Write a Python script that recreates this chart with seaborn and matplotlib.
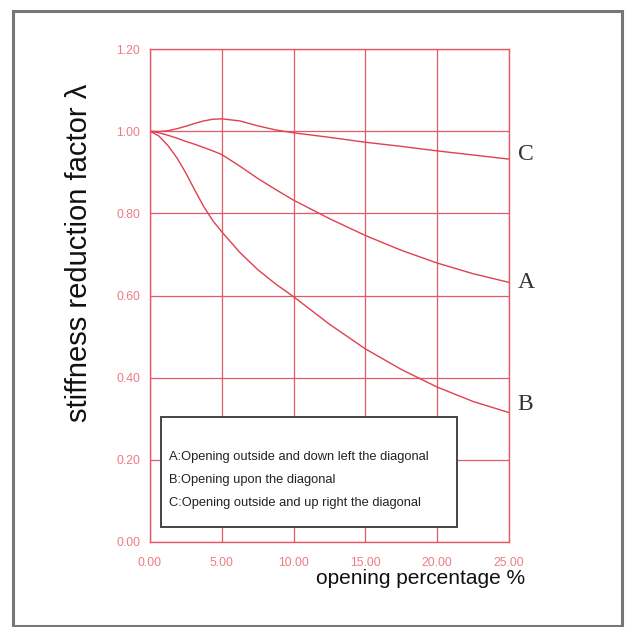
import numpy as np
import pandas as pd
import matplotlib
matplotlib.use("Agg")
import matplotlib.pyplot as plt
from matplotlib.patches import Rectangle
import seaborn as sns

# Data
opening = [0, 0.625, 1.25, 1.875, 2.5, 3.125, 3.75, 4.375, 5, 6.25, 7.5, 8.75, 10,
           12.5, 15, 17.5, 20, 22.5, 25]
curve_a = [1.000, 0.996, 0.990, 0.983, 0.975, 0.968, 0.960, 0.952, 0.943, 0.915, 0.885,
           0.858, 0.832, 0.787, 0.746, 0.710, 0.679, 0.653, 0.632]
curve_b = [1.000, 0.988, 0.965, 0.935, 0.898, 0.856, 0.816, 0.782, 0.755, 0.705, 0.663,
           0.628, 0.597, 0.530, 0.470, 0.420, 0.377, 0.342, 0.315]
curve_c = [1.000, 0.999, 1.001, 1.006, 1.012, 1.019, 1.025, 1.029, 1.030, 1.025, 1.013,
           1.003, 0.996, 0.985, 0.973, 0.963, 0.952, 0.942, 0.932]
series_names = ["A", "B", "C"]
legend_lines = ["A:Opening outside and down left the diagonal",
                "B:Opening upon the diagonal",
                "C:Opening outside and up right the diagonal"]
x_ticks = [0, 5, 10, 15, 20, 25]
y_ticks = [0, 0.2, 0.4, 0.6, 0.8, 1.0, 1.2]

df = pd.DataFrame({
    "opening": opening * 3,
    "factor": curve_a + curve_b + curve_c,
    "curve": [n for n in series_names for _ in opening],
})

sns.set_theme(style="white")
plt.rcParams['font.family'] = ['Liberation Sans', 'DejaVu Sans']

red = "#e0404f"
grid_red = "#e25a68"

fig = plt.figure(figsize=(6.26, 6.27), dpi=100)
ax = fig.add_axes([150 / 626, 1 - 542 / 627, 359 / 626, 493 / 627])

# outer frame
fig.patches.append(Rectangle((13 / 626, 1 - 626 / 627), 609 / 626, 615 / 627,
                             transform=fig.transFigure, fill=False,
                             edgecolor="#777777", linewidth=2.2))

sns.lineplot(data=df, x="opening", y="factor", hue="curve", units="curve",
             estimator=None, palette=[red, red, red], linewidth=1.0,
             legend=False, ax=ax)

ax.set_xlim(0, 25)
ax.set_ylim(0, 1.2)
ax.set_xticks(x_ticks)
ax.set_yticks(y_ticks)
ax.set_xticklabels([f"{v:.2f}" for v in x_ticks])
ax.set_yticklabels([f"{v:.2f}" for v in y_ticks])
ax.tick_params(length=0, labelsize=8.8, labelcolor="#f07a84")
ax.tick_params(axis="x", pad=11)
ax.tick_params(axis="y", pad=7)
ax.grid(True, color=grid_red, linewidth=0.9)
for sp in ax.spines.values():
    sp.set_color(grid_red)
    sp.set_linewidth(1.0)
ax.set_xlabel("")
ax.set_ylabel("")

# curve labels at the right end
label_shift = [0.0, 0.02, 0.01]
for name, vals, dy in zip(series_names, [curve_a, curve_b, curve_c], label_shift):
    ax.text(25.6, vals[-1] + dy, name, family="Liberation Serif",
            fontsize=17, color="#333333", va="center", ha="left", clip_on=False)

# legend box
ax.add_patch(Rectangle((0.75, 0.037), 20.6, 0.268, facecolor="white",
                       edgecolor="#444444", linewidth=1.4, zorder=3))
for i, line in enumerate(legend_lines):
    ax.text(1.3, 0.208 - i * 0.056, line, fontsize=9.3,
            color="#222222", va="center", ha="left", zorder=4)

fig.text(421 / 626, 1 - 578 / 627, "opening percentage %", fontsize=15,
         color="#111111", ha="center", va="center")
fig.text(79 / 626, 1 - 253 / 627, "stiffness reduction factor λ", fontsize=21,
         color="#111111", ha="center", va="center", rotation=90)

fig.savefig("out.png", dpi=100)
